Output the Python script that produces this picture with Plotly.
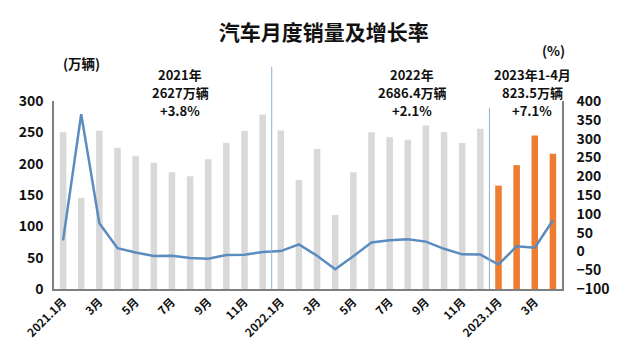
import plotly.graph_objects as go

months = ["2021.1", "2021.2", "2021.3", "2021.4", "2021.5", "2021.6", "2021.7", "2021.8",
          "2021.9", "2021.10", "2021.11", "2021.12",
          "2022.1", "2022.2", "2022.3", "2022.4", "2022.5", "2022.6", "2022.7", "2022.8",
          "2022.9", "2022.10", "2022.11", "2022.12",
          "2023.1", "2023.2", "2023.3", "2023.4"]
sales = [250.3, 145.5, 252.6, 225.2, 212.8, 201.5, 186.4, 179.9, 207.1, 233.3, 252.2, 278.6,
         253.1, 173.7, 223.4, 118.1, 186.2, 250.2, 242.0, 238.3, 261.0, 250.5, 232.9, 255.6,
         164.9, 197.6, 245.1, 215.9]
growth = [29.5, 365.0, 74.9, 8.6, -3.1, -12.4, -11.9, -17.8, -19.6, -9.4, -9.1, -1.6,
          0.9, 18.7, -11.7, -47.6, -12.6, 23.8, 29.7, 32.1, 26.0, 6.9, -7.9, -8.4,
          -34.8, 13.5, 9.7, 82.7]
tick_months = ["2021.1", "2021.3", "2021.5", "2021.7", "2021.9", "2021.11",
               "2022.1", "2022.3", "2022.5", "2022.7", "2022.9", "2022.11",
               "2023.1", "2023.3"]
tick_labels = ["2021.1月", "3月", "5月", "7月", "9月", "11月",
               "2022.1月", "3月", "5月", "7月", "9月", "11月",
               "2023.1月", "3月"]
bar_colors = ["#d9d9d9"] * 24 + ["#ed7d31"] * 4
period_names = ["2021年", "2022年", "2023年1-4月"]
period_totals = ["2627万辆", "2686.4万辆", "823.5万辆"]
period_growth = ["+3.8%", "+2.1%", "+7.1%"]

FONT = "Noto Sans CJK SC"

fig = go.Figure()
fig.add_trace(go.Bar(x=months, y=sales, marker_color=bar_colors, marker_line_width=0,
                     width=0.36, yaxis="y", showlegend=False))
fig.add_trace(go.Scatter(x=months, y=growth, mode="lines", line=dict(color="#5b8cc0", width=2.5),
                         yaxis="y2", showlegend=False))

# year separators
fig.add_shape(type="line", xref="x", yref="paper", x0=11.5, x1=11.5, y0=0, y1=1.182,
              line=dict(color="#8fb2d4", width=1))
fig.add_shape(type="line", xref="x", yref="paper", x0=23.5, x1=23.5, y0=0, y1=0.963,
              line=dict(color="#8fb2d4", width=1))

bold = dict(family=FONT, size=13, color="#111111")
line_y = [0.142, 0.043, -0.053]
for xpos, a, b, c in zip([6.45, 19.24, 25.85], period_names, period_totals, period_growth):
    for yy, txt in zip(line_y, [a, b, c]):
        fig.add_annotation(x=xpos, y=1 + yy, xref="x", yref="paper", text="<b>" + txt + "</b>",
                           showarrow=False, font=bold, yanchor="middle", borderpad=0)
fig.add_annotation(x=0.014, y=1.202, xref="paper", yref="paper", text="<b>(万辆)</b>",
                   showarrow=False, font=dict(family=FONT, size=13.5, color="#111111"),
                   yanchor="middle")
fig.add_annotation(x=1.010, y=1.271, xref="paper", yref="paper", text="<b>(%)</b>",
                   showarrow=False, font=dict(family=FONT, size=13.5, color="#111111"),
                   yanchor="middle")

fig.update_layout(
    width=629, height=360,
    margin=dict(l=46, r=75, t=93, b=79),
    paper_bgcolor="white", plot_bgcolor="white",
    title=dict(text="<b>汽车月度销量及增长率</b>", x=0.502, xanchor="center",
               y=0.931, yanchor="middle",
               font=dict(family=FONT, size=21, color="#111111")),
    font=dict(family=FONT),
    xaxis=dict(type="category", categoryorder="array", categoryarray=months,
               tickvals=tick_months, ticktext=["<b>" + t + "</b>" for t in tick_labels],
               tickangle=-45, tickfont=dict(family=FONT, size=11.5, color="#111111"),
               showline=True, linecolor="#7f7f7f", linewidth=1.5, ticks="",
               showgrid=False, range=[-0.5, 27.5], automargin=False),
    yaxis=dict(range=[0, 300], dtick=50, showgrid=False, zeroline=False,
               showline=True, linecolor="#7f7f7f", linewidth=1.5,
               tickfont=dict(family=FONT, size=14, color="#111111"),
               tickprefix="<b>", ticksuffix="</b>", ticklabelstandoff=6, automargin=False),
    yaxis2=dict(range=[-100, 400], dtick=50, overlaying="y", side="right", showgrid=False,
                zeroline=False, showline=True, linecolor="#7f7f7f", linewidth=1.5,
                tickfont=dict(family=FONT, size=14, color="#111111"),
                tickprefix="<b>", ticksuffix="</b>", ticklabelstandoff=10, automargin=False),
)

fig.write_html("out.html")
